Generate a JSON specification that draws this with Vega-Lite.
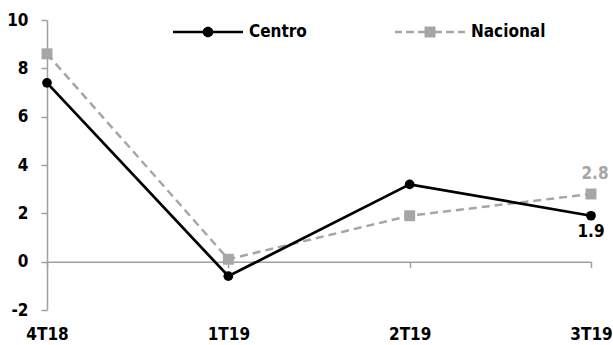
{
  "$schema": "https://vega.github.io/schema/vega-lite/v6.json",
  "width": 544,
  "height": 290,
  "autosize": {"type": "none"},
  "padding": {"left": 47, "top": 20, "right": 22, "bottom": 35},
  "background": "#ffffff",
  "config": {
    "font": "DejaVu Sans Condensed, Liberation Sans, Arial, sans-serif",
    "view": {"stroke": null},
    "axis": {
      "title": null,
      "grid": false,
      "domainColor": "#a0a0a0",
      "domainWidth": 1.5,
      "tickColor": "#a0a0a0",
      "tickWidth": 1.5,
      "tickSize": 6,
      "labelFont": "DejaVu Sans Condensed, Liberation Sans, Arial, sans-serif",
      "labelFontSize": 17,
      "labelFontWeight": "bold",
      "labelColor": "#000000"
    }
  },
  "data": {
    "values": [
      {"periodo": "4T18", "serie": "Centro", "valor": 7.4},
      {"periodo": "1T19", "serie": "Centro", "valor": -0.6},
      {"periodo": "2T19", "serie": "Centro", "valor": 3.2},
      {"periodo": "3T19", "serie": "Centro", "valor": 1.9},
      {"periodo": "4T18", "serie": "Nacional", "valor": 8.6},
      {"periodo": "1T19", "serie": "Nacional", "valor": 0.1},
      {"periodo": "2T19", "serie": "Nacional", "valor": 1.9},
      {"periodo": "3T19", "serie": "Nacional", "valor": 2.8}
    ]
  },
  "encoding": {
    "x": {
      "field": "periodo",
      "type": "ordinal",
      "sort": null,
      "scale": {"type": "point", "padding": 0},
      "axis": {
        "labelAngle": 0,
        "offset": {"expr": "scale('y', 0) - height"},
        "labelPadding": {"expr": "height - scale('y', 0) + 10"}
      }
    },
    "y": {
      "field": "valor",
      "type": "quantitative",
      "scale": {"domain": [-2, 10], "nice": false, "zero": false},
      "axis": {
        "values": [-2, 0, 2, 4, 6, 8, 10],
        "labelPadding": 13,
        "labelExpr": "datum.value < 0 ? '-' + abs(datum.value) : datum.label"
      }
    }
  },
  "layer": [
    {
      "transform": [{"filter": "datum.valor > 100"}],
      "mark": {"type": "point", "filled": true, "opacity": 1, "strokeWidth": 0},
      "encoding": {
        "color": {
          "field": "serie",
          "type": "nominal",
          "scale": {"domain": ["Centro", "Nacional"], "range": ["#000000", "#a6a6a6"]},
          "legend": {
            "title": null,
            "orient": "none",
            "legendX": 126,
            "legendY": -23,
            "direction": "horizontal",
            "padding": 0,
            "symbolSize": 4900,
            "symbolStrokeWidth": 0,
            "symbolOpacity": 1,
            "labelFontSize": 17,
            "labelFontWeight": "bold",
            "labelColor": "#000000",
            "labelOffset": 6,
            "labelLimit": 200,
            "columnPadding": 88
          }
        },
        "shape": {
          "field": "serie",
          "type": "nominal",
          "scale": {
            "domain": ["Centro", "Nacional"],
            "range": [
              "M-1,-0.036H1V0.036H-1Z M-0.15,0A0.15,0.15 0 1 1 0.15,0A0.15,0.15 0 1 1 -0.15,0Z",
              "M-1,-0.036H-0.8V0.036H-1Z M-0.686,-0.036H-0.457V0.036H-0.686Z M-0.343,-0.036H0.343V0.036H-0.343Z M0.457,-0.036H0.686V0.036H0.457Z M0.8,-0.036H1V0.036H0.8Z M-0.157,-0.157H0.157V0.157H-0.157Z"
            ]
          },
          "legend": {
            "title": null,
            "orient": "none",
            "legendX": 126,
            "legendY": -23,
            "direction": "horizontal",
            "padding": 0,
            "symbolSize": 4900,
            "symbolStrokeWidth": 0,
            "symbolOpacity": 1,
            "labelFontSize": 17,
            "labelFontWeight": "bold",
            "labelColor": "#000000",
            "labelOffset": 6,
            "labelLimit": 200,
            "columnPadding": 88
          }
        }
      }
    },
    {
      "transform": [{"filter": "datum.serie == 'Nacional'"}],
      "mark": {
        "type": "line",
        "color": "#a6a6a6",
        "strokeWidth": 2.5,
        "strokeDash": [8, 5],
        "point": {"shape": "square", "size": 120, "filled": true, "color": "#a6a6a6", "opacity": 1}
      }
    },
    {
      "transform": [{"filter": "datum.serie == 'Centro'"}],
      "mark": {
        "type": "line",
        "color": "#000000",
        "strokeWidth": 2.75,
        "point": {"shape": "circle", "size": 95, "filled": true, "color": "#000000", "opacity": 1}
      }
    },
    {
      "transform": [{"filter": "datum.serie == 'Centro' && datum.periodo == '3T19'"}],
      "mark": {"type": "text", "fontSize": 17, "fontWeight": "bold", "color": "#000000", "dy": 16},
      "encoding": {"text": {"field": "valor", "type": "quantitative", "format": ".1f"}}
    },
    {
      "transform": [{"filter": "datum.serie == 'Nacional' && datum.periodo == '3T19'"}],
      "mark": {"type": "text", "fontSize": 17, "fontWeight": "bold", "color": "#a6a6a6", "dy": -20, "dx": 4},
      "encoding": {"text": {"field": "valor", "type": "quantitative", "format": ".1f"}}
    }
  ]
}
